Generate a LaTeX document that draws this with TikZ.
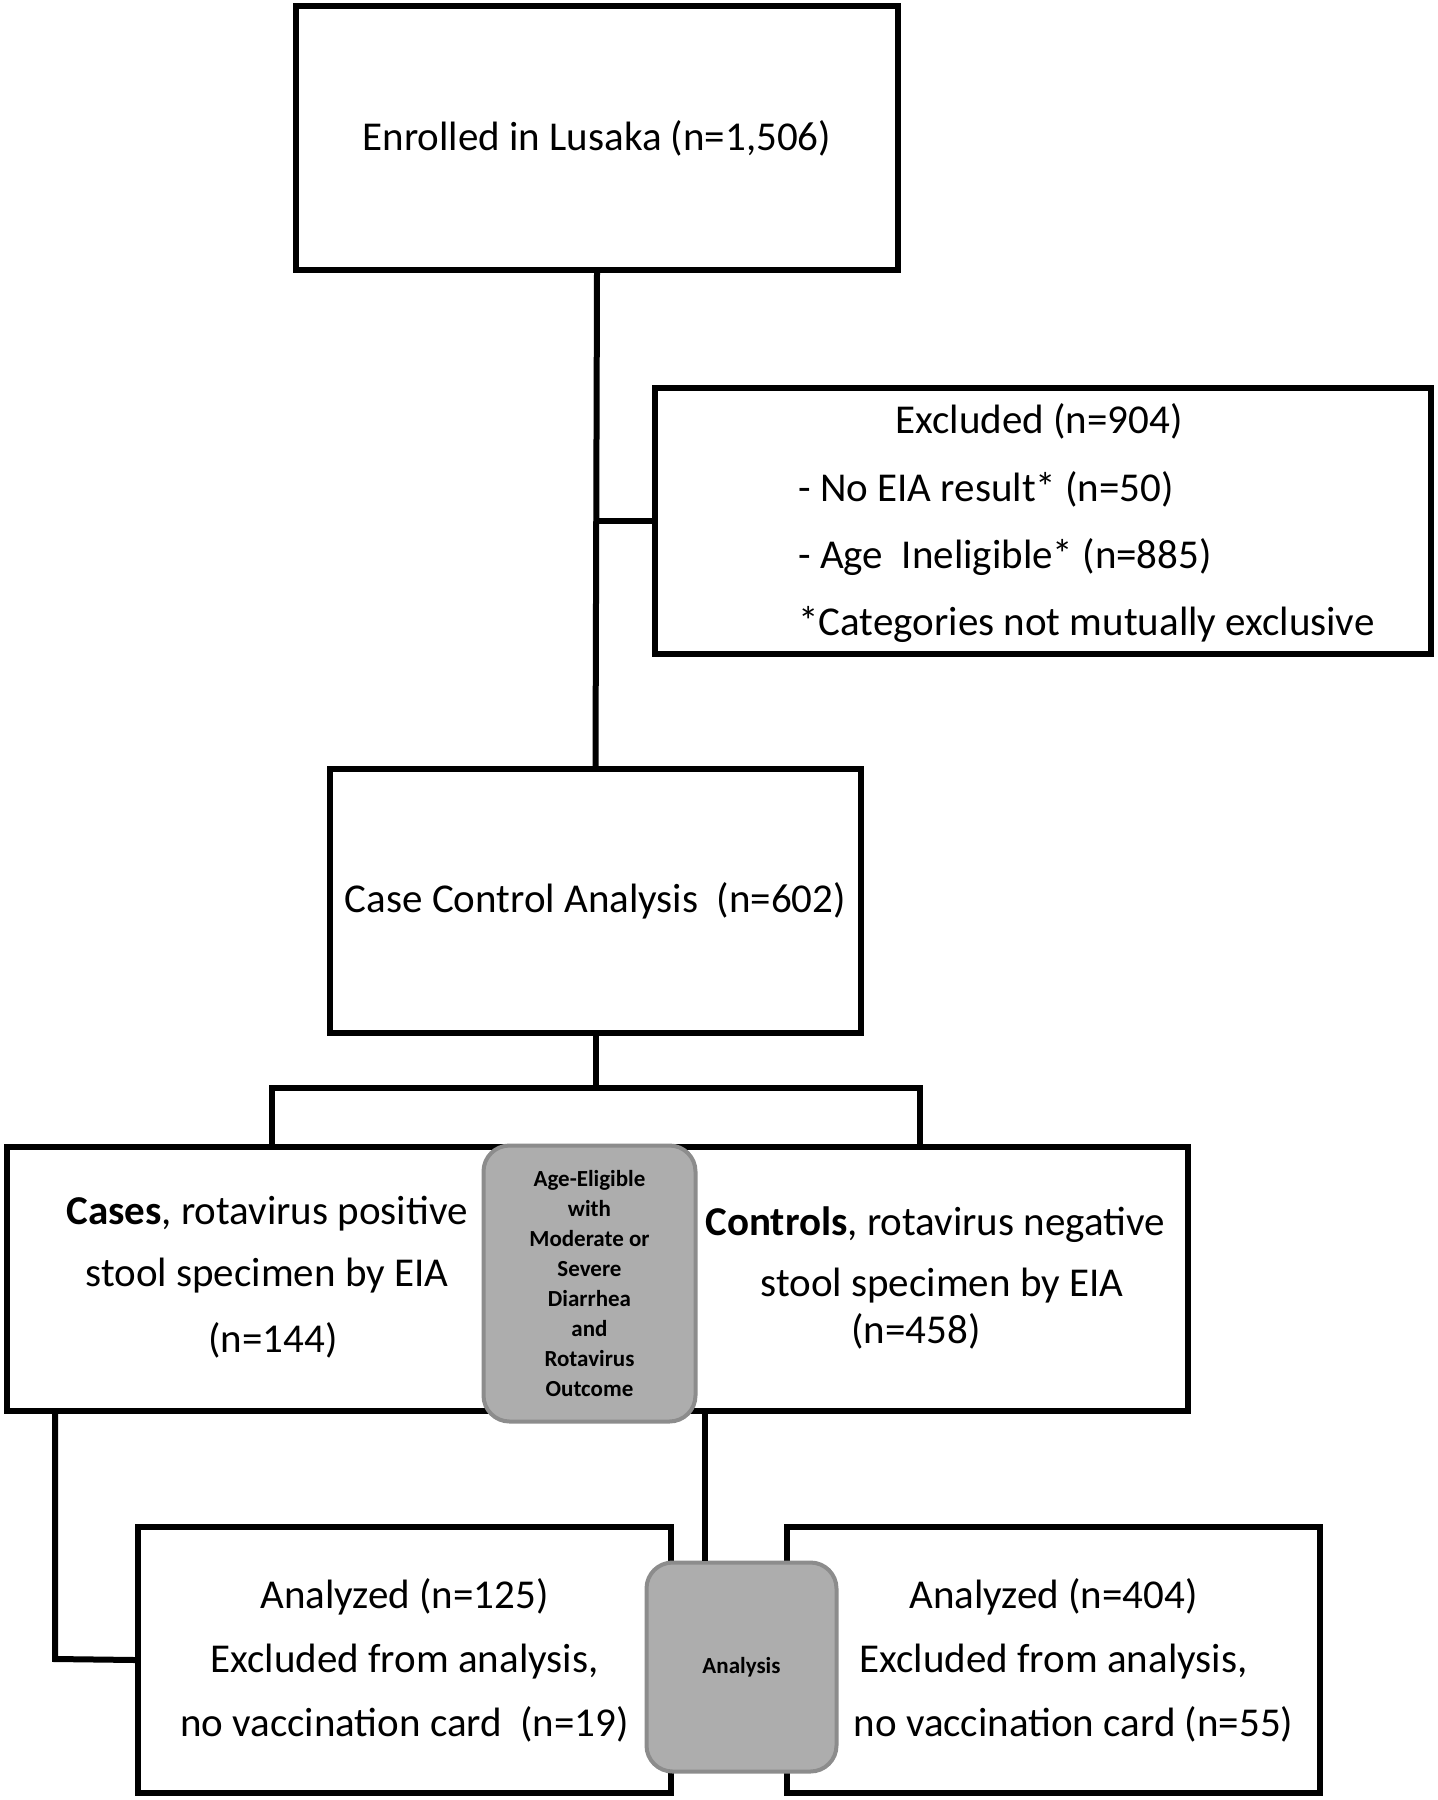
\documentclass[tikz,border=0pt]{standalone}
\usepackage{fontspec}
\setmainfont{Carlito}
\definecolor{gfill}{HTML}{ADADAD}
\definecolor{gborder}{HTML}{8C8C8C}
\newcommand\mainfs{\fontsize{20.5pt}{31pt}\selectfont}
\newcommand\smallfs{\fontsize{11.5pt}{15pt}\selectfont\bfseries}
\begin{document}
\begin{tikzpicture}[x=0.5pt,y=-0.5pt,
  box/.style={draw,line width=3pt,rectangle,inner sep=0pt,align=center,font=\mainfs},
  gbox/.style={draw=gborder,fill=gfill,line width=2pt,rounded corners=13pt,inner sep=0pt,align=center,font=\smallfs},
  conn/.style={line width=3pt},
  txt/.style={inner sep=0pt,font=\mainfs}]
\useasboundingbox (0,0) rectangle (1437,1800);
\fill[white] (0,0) rectangle (1437,1800);

% boxes
\node[box,minimum width=301pt,minimum height=132pt] (top) at (597,138) {Enrolled in Lusaka (n=1,506)};
\node[box,minimum width=388pt,minimum height=133pt] (excl) at (1043,521) {};
\node[txt] (ex1) at (1039,421) {Excluded (n=904)};
\node[txt,anchor=west] (ex2) at (798,489) {- No EIA result* (n=50)};
\node[txt,anchor=west] (ex3) at (798,557) {- Age\ \ Ineligible* (n=885)};
\node[txt,anchor=west] (ex4) at (798,624) {*Categories not mutually exclusive};

\node[box,minimum width=265.5pt,minimum height=132pt] (cc) at (595.5,901) {Case Control Analysis\ \ (n=602)};

\node[box,minimum width=292pt,minimum height=132pt] (cases) at (299,1279) {};
\node[txt] (cs1) at (267,1214) {\textbf{Cases}, rotavirus positive};
\node[txt] (cs2) at (267,1276) {stool specimen by EIA};
\node[txt] (cs3) at (273,1340) {(n=144)};
\node[box,minimum width=297pt,minimum height=132pt] (controls) at (891,1279) {};
\node[txt] (ct1) at (935,1225) {\textbf{Controls}, rotavirus negative};
\node[txt] (ct2) at (942,1286) {stool specimen by EIA};
\node[txt] (ct3) at (916,1331) {(n=458)};

\node[box,minimum width=266.5pt,minimum height=133pt,font=\fontsize{20.5pt}{32pt}\selectfont] (bl) at (404.5,1660) {Analyzed (n=125)\\Excluded from analysis,\\no vaccination card\ \ (n=19)};
\node[box,minimum width=266.5pt,minimum height=133pt,font=\fontsize{20.5pt}{32pt}\selectfont] (br) at (1053.5,1660) {Analyzed (n=404)\\Excluded from analysis,\\\hspace*{20pt}no vaccination card (n=55)};

% connectors
\coordinate (jl) at (272,1088);
\coordinate (jr) at (920,1088);
\coordinate (cl) at (55,1659);
\coordinate (cr) at (705,1500);
\draw[conn] (top.south) -- (cc.north);
\draw[conn] (excl.west) -- (excl.west -| top.south);
\draw[conn] (cc.south) -- (cc.south |- jl);
\draw[conn] (jl |- cases.north) -- (jl) -- (jr) -- (jr |- controls.north);
\draw[conn] (cl |- cases.south) -- (cl) -- (bl.west);

% gray boxes
\node[gbox,minimum width=106pt,minimum height=138pt] (elig) at (589.5,1283.5) {Age-Eligible\\with\\Moderate or\\Severe\\Diarrhea\\and\\Rotavirus\\Outcome};
\node[gbox,minimum width=95pt,minimum height=104.5pt] (ana) at (741.5,1667) {Analysis};
\draw[conn] (cr |- controls.south) -- (cr |- ana.north);
\end{tikzpicture}
\end{document}
